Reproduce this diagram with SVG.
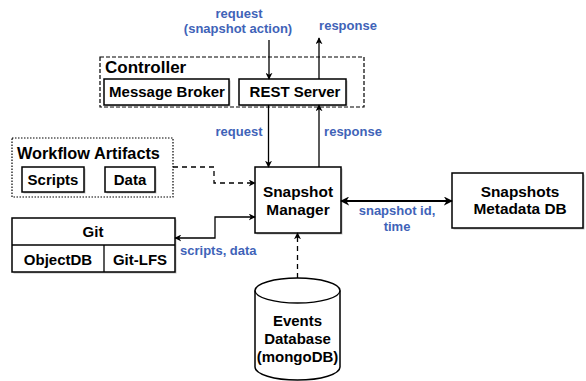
<svg xmlns="http://www.w3.org/2000/svg" width="586" height="381" viewBox="0 0 586 381">
  <defs>
    <marker id="arr" viewBox="0 0 10 10" refX="9" refY="5" markerWidth="7" markerHeight="7" markerUnits="userSpaceOnUse" orient="auto-start-reverse">
      <path d="M0,0 L10,5 L0,10 L3,5 z" fill="#000"/>
    </marker>
    <marker id="arrB" viewBox="0 0 10 10" refX="9" refY="5" markerWidth="9" markerHeight="9" markerUnits="userSpaceOnUse" orient="auto-start-reverse">
      <path d="M0,0 L10,5 L0,10 L3,5 z" fill="#000"/>
    </marker>
  </defs>
  <style>
    .box { fill: #fff; stroke: #000; stroke-width: 1.5; }
    .shadow { fill: #9a9a9a; opacity: 0.6; }
    .grp { fill: none; stroke: #000; stroke-width: 1.2; }
    .t { font-family: "Liberation Sans", Arial, sans-serif; font-weight: bold; fill: #000; }
    .lbl { font-family: "Liberation Sans", Arial, sans-serif; font-weight: bold; font-size: 13px; fill: #3f63b8; }
    .c { text-anchor: middle; }
    .line { fill: none; stroke: #000; stroke-width: 1.3; }
    .thick { fill: none; stroke: #000; stroke-width: 2.2; }
    .dash { fill: none; stroke: #000; stroke-width: 1.3; stroke-dasharray: 5 4; }
  </style>

  <!-- Controller group -->
  <g id="controller">
    <rect class="grp" x="100" y="57" width="264" height="50" stroke-dasharray="4 2"/>
    <text class="t" x="105" y="73" font-size="17">Controller</text>
  </g>
  <g id="message-broker">
    <rect class="shadow" x="105.5" y="80.5" width="125" height="26"/>
    <rect class="box" x="104" y="79" width="125" height="26"/>
    <text class="t c" x="167" y="97" font-size="15">Message Broker</text>
  </g>
  <g id="rest-server">
    <rect class="shadow" x="240.5" y="80.5" width="107" height="26"/>
    <rect class="box" x="239" y="79" width="107" height="26"/>
    <text class="t c" x="295" y="97" font-size="15">REST Server</text>
  </g>

  <!-- Workflow artifacts group -->
  <g id="workflow-artifacts">
    <rect class="grp" x="12" y="138" width="161" height="59" stroke-dasharray="1.5 1.5"/>
    <text class="t" x="17" y="159" font-size="16.3">Workflow Artifacts</text>
  </g>
  <g id="scripts">
    <rect class="shadow" x="23.5" y="168.5" width="62" height="25"/>
    <rect class="box" x="22" y="167" width="62" height="25"/>
    <text class="t c" x="53" y="185" font-size="15">Scripts</text>
  </g>
  <g id="data">
    <rect class="shadow" x="106.5" y="168.5" width="50" height="25"/>
    <rect class="box" x="105" y="167" width="50" height="25"/>
    <text class="t c" x="130" y="185" font-size="15">Data</text>
  </g>

  <!-- Git -->
  <g id="git">
    <rect class="shadow" x="13.5" y="219.5" width="163" height="54"/>
    <rect class="box" x="12" y="218" width="163" height="54"/>
    <line class="line" x1="12" y1="245" x2="175" y2="245" stroke-width="1.5"/>
    <line class="line" x1="104" y1="245" x2="104" y2="272" stroke-width="1.5"/>
    <text class="t c" x="93" y="237" font-size="15">Git</text>
    <text class="t c" x="58" y="265" font-size="15">ObjectDB</text>
    <text class="t c" x="140" y="265" font-size="15">Git-LFS</text>
  </g>

  <!-- Snapshot Manager -->
  <g id="snapshot-manager">
    <rect class="shadow" x="256.5" y="168.5" width="86" height="66"/>
    <rect class="box" x="255" y="167" width="86" height="66"/>
    <text class="t c" x="298" y="197" font-size="15.4">Snapshot</text>
    <text class="t c" x="298" y="215" font-size="15.4">Manager</text>
  </g>

  <!-- Snapshots Metadata DB -->
  <g id="snapshots-metadata-db">
    <rect class="shadow" x="453.5" y="174.5" width="131" height="55"/>
    <rect class="box" x="452" y="173" width="131" height="55"/>
    <text class="t c" x="520" y="197" font-size="15.4">Snapshots</text>
    <text class="t c" x="520" y="214" font-size="15.4">Metadata DB</text>
  </g>

  <!-- Events Database cylinder -->
  <g id="events-database">
    <path class="box" d="M255,290.5 A42.5,12.5 0 0 1 340,290.5 L340,367 A42.5,13 0 0 1 255,367 Z"/>
    <path class="line" stroke-width="1.5" d="M255,290.5 A42.5,12.5 0 0 0 340,290.5"/>
    <text class="t c" x="297.5" y="326" font-size="15">Events</text>
    <text class="t c" x="297.5" y="344" font-size="15">Database</text>
    <text class="t c" x="297.5" y="362" font-size="15">(mongoDB)</text>
  </g>

  <!-- Connectors -->
  <g id="connectors">
    <line class="line" x1="269" y1="40" x2="269" y2="79" marker-end="url(#arr)"/>
    <line class="line" x1="319" y1="79" x2="319" y2="38" marker-end="url(#arr)"/>
    <line class="line" x1="268.5" y1="105" x2="268.5" y2="167" marker-end="url(#arr)"/>
    <line class="line" x1="319" y1="167" x2="319" y2="105" marker-end="url(#arr)"/>
    <polyline class="dash" points="173,167 214,167 214,183 255,183" marker-end="url(#arr)"/>
    <polyline class="line" stroke-width="1.6" points="175,238 215,238 215,217 255,217" marker-start="url(#arr)" marker-end="url(#arr)"/>
    <line class="thick" x1="341" y1="201" x2="452" y2="201" marker-start="url(#arrB)" marker-end="url(#arrB)"/>
    <line class="dash" x1="297.5" y1="278" x2="297.5" y2="233" marker-end="url(#arr)"/>
  </g>

  <!-- Connector labels -->
  <g id="labels">
    <text class="lbl c" x="239" y="18">request</text>
    <text class="lbl c" x="238" y="33">(snapshot action)</text>
    <text class="lbl c" x="348" y="30">response</text>
    <text class="lbl c" x="239" y="136">request</text>
    <text class="lbl c" x="353" y="136">response</text>
    <text class="lbl" x="180" y="255">scripts, data</text>
    <text class="lbl c" x="397" y="215">snapshot id,</text>
    <text class="lbl c" x="397" y="231">time</text>
  </g>
</svg>
